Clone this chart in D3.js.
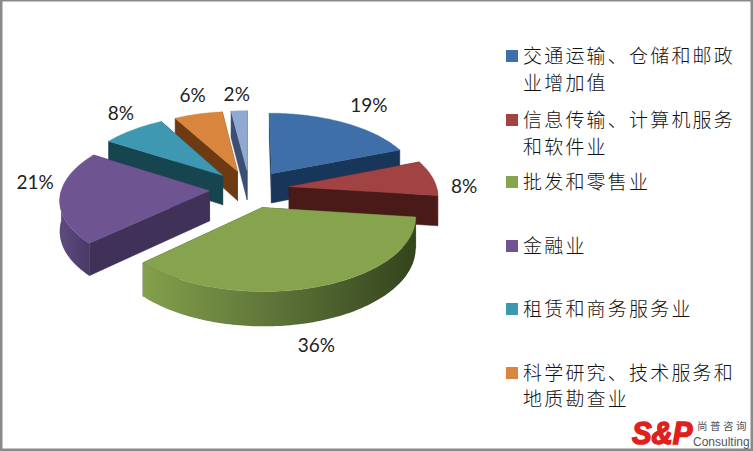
<!DOCTYPE html>
<html><head><meta charset="utf-8">
<script src="https://cdn.jsdelivr.net/npm/d3@7"></script>
<style>html,body{margin:0;padding:0;background:#fff;overflow:hidden}svg{display:block}</style>
</head><body><div id="c"></div>
<script>
const categories = [
  ["交通运输、仓储和邮政","业增加值"],
  ["信息传输、计算机服务","和软件业"],
  ["批发和零售业"],
  ["金融业"],
  ["租赁和商务服务业"],
  ["科学研究、技术服务和","地质勘查业"],
  [""]
];
const values = [19, 8, 36, 21, 8, 6, 2];
const labelTexts = ["19%","8%","36%","21%","8%","6%","2%"];
const topColors = ["#3f6fa9","#a14343","#86a44e","#6e5491","#3f98b2","#da853d","#8fa9d2"];
const wallColors = ["#17365a","#491a18","#3a4a20","#403158","#16454f","#6d3a12","#3c4f72"];
const rimColors = [["#2a4c78","#17365a"],["#6a2826","#491a18"],["#83a04b","#5c7238","#34441c"],["#604a80","#493a66"],["#246070","#16454f"],["#8a4d1a","#6d3a12"],["#4a6088","#3c4f72"]];
const drawOrder = [6,5,4,0,3,1,2];
const legendY = [[56,83],[120,147],[182],[246],[309],[373,399]];
const labelNudge = [[11.5,-8],[3,10],[-12.5,5],[5.5,-47],[4.5,-8],[1.5,-8],[-1,-6]];

const W=753,H=451,cx=249.5,cy=189,R=148,tilt=0.475,k=0.11,depth=30,explode=40,labelR=1.2;
const svg=d3.select("#c").append("svg").attr("width",W).attr("height",H);
svg.append("rect").attr("width",W).attr("height",H).attr("fill","#fff");
const defs=svg.append("defs");
const frame=svg.append("g");
[[0,0,W,1.5],[0,0,2.5,H],[750.5,0,2.5,H],[0,448.5,W,2.5]].forEach(d=>frame.append("rect").attr("x",d[0]).attr("y",d[1]).attr("width",d[2]).attr("height",d[3]).attr("fill","#8a8a8a"));

const pie=d3.pie().sort(null).value(d=>d).startAngle(0).endAngle(2*Math.PI);
const arcs=pie(values);
const line=d3.line();
function proj(X,Y,drop){const s=1/(1-k*Y/R);return [cx+X*s,cy+tilt*Y*s+(drop||0)*s];}
function ground(a,r){return [Math.sin(a)*r,-Math.cos(a)*r];}
function samples(a0,a1,dropV,off){
  const n=Math.max(2,Math.ceil((a1-a0)/0.02));
  return d3.range(n+1).map(i=>{const a=a0+(a1-a0)*i/n,g=ground(a,R);return proj(g[0]+off[0],g[1]+off[1],dropV);});
}
const g=svg.append("g");
drawOrder.forEach(i=>{
  const d=arcs[i],mid=(d.startAngle+d.endAngle)/2,off=ground(mid,explode);
  const apex=proj(off[0],off[1],0),apexB=proj(off[0],off[1],depth);
  const grp=g.append("g");
  [d.startAngle,d.endAngle].forEach(a=>{
    const e=ground(a,R),t=proj(e[0]+off[0],e[1]+off[1],0),b=proj(e[0]+off[0],e[1]+off[1],depth);
    grp.append("path").attr("d",line([apex,t,b,apexB])+"Z").attr("fill",wallColors[i]).attr("stroke",wallColors[i]).attr("stroke-width",.5);
  });
  const a0=Math.max(d.startAngle,Math.PI/2),a1=Math.min(d.endAngle,3*Math.PI/2);
  if(a1>a0){
    const top=samples(a0,a1,0,off),bot=samples(a0,a1,depth,off).reverse();
    const xs=top.map(p=>p[0]);
    const id="rim"+i,cols=rimColors[i];
    const lg=defs.append("linearGradient").attr("id",id).attr("gradientUnits","userSpaceOnUse")
      .attr("x1",d3.min(xs)).attr("x2",d3.max(xs)).attr("y1",0).attr("y2",0);
    cols.forEach((c,j)=>lg.append("stop").attr("offset",j/(cols.length-1)).attr("stop-color",c));
    grp.append("path").attr("d",line(top.concat(bot))+"Z").attr("fill",`url(#${id})`);
  }
  const rim=samples(d.startAngle,d.endAngle,0,off);
  grp.append("path").attr("d",line([apex].concat(rim))+"Z").attr("fill",topColors[i]).attr("stroke",topColors[i]).attr("stroke-width",.4);
});

const lab=svg.append("g").attr("font-family","Lato, 'Open Sans', sans-serif").attr("font-weight",400).attr("font-size",19).attr("fill","#222").attr("text-anchor","middle");
arcs.forEach((d,i)=>{
  const mid=(d.startAngle+d.endAngle)/2,off=ground(mid,explode),p=ground(mid,R*labelR);
  const q=proj(off[0]+p[0],off[1]+p[1],mid>Math.PI/2&&mid<3*Math.PI/2?depth:0);
  lab.append("text").attr("x",q[0]+labelNudge[i][0]).attr("y",q[1]+labelNudge[i][1]).attr("dy","0.35em").text(labelTexts[i]);
});

const leg=svg.append("g");
legendY.forEach((ys,i)=>{
  leg.append("rect").attr("x",506).attr("y",ys[0]-6).attr("width",12).attr("height",12).attr("fill",topColors[i]);
  categories[i].forEach((t,j)=>{
    leg.append("text").attr("x",523).attr("y",ys[j]).attr("dy","0.36em")
      .attr("font-family","'Noto Sans CJK SC'").attr("font-weight",300).attr("font-size",19).attr("letter-spacing",2.2).attr("fill","#111").text(t);
  });
});

const logo=svg.append("g");
logo.append("text").attr("transform","translate(632,444) scale(1.05,1.12)").attr("font-family","'Liberation Sans'").attr("font-weight",700).attr("font-style","italic")
  .attr("font-size",28).attr("fill","#e0201c").attr("stroke","#e0201c").attr("stroke-width",1.4).text("S&P");
logo.append("text").attr("x",697).attr("y",430).attr("font-family","'Noto Sans CJK SC'").attr("font-size",10.5).attr("letter-spacing",2.5).attr("fill","#555").text("尚普咨询");
logo.append("text").attr("x",693).attr("y",446).attr("font-family","'Liberation Sans'").attr("font-size",12).attr("fill","#555").text("Consulting");
</script></body></html>
